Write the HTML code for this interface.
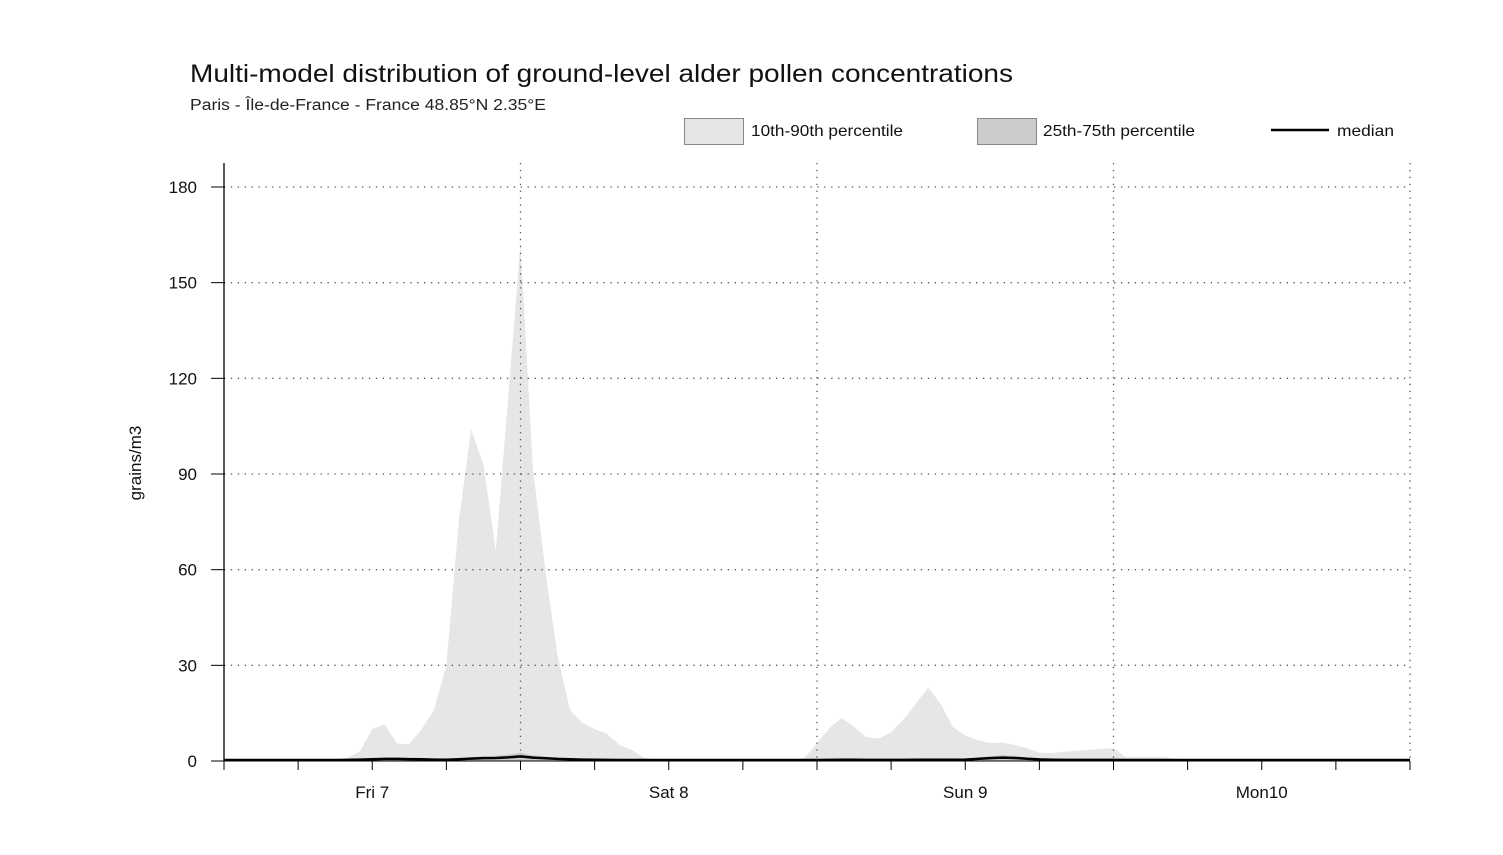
<!DOCTYPE html>
<html><head><meta charset="utf-8"><style>
html,body{margin:0;padding:0;background:#fff;}
svg{display:block;font-family:"Liberation Sans",sans-serif;}
</style></head><body>
<svg id="chart" width="1503" height="855" xmlns="http://www.w3.org/2000/svg">
<text x="190" y="82" font-size="25" fill="#111" textLength="823" lengthAdjust="spacingAndGlyphs">Multi-model distribution of ground-level alder pollen concentrations</text>
<text x="190" y="110" font-size="15.5" fill="#222" textLength="356" lengthAdjust="spacingAndGlyphs">Paris - Île-de-France - France 48.85°N 2.35°E</text>
<g>
<rect x="684.5" y="118.5" width="59" height="26" fill="#e6e6e6" stroke="#888"/>
<text x="751" y="136" font-size="16" fill="#111" textLength="152" lengthAdjust="spacingAndGlyphs">10th-90th percentile</text>
<rect x="977.5" y="118.5" width="59" height="26" fill="#cccccc" stroke="#888"/>
<text x="1043" y="136" font-size="16" fill="#111" textLength="152" lengthAdjust="spacingAndGlyphs">25th-75th percentile</text>
<line x1="1271" y1="130" x2="1329" y2="130" stroke="#000" stroke-width="2.5"/>
<text x="1337" y="136" font-size="16" fill="#111" textLength="57" lengthAdjust="spacingAndGlyphs">median</text>
</g>
<text transform="translate(141,463) rotate(-90)" text-anchor="middle" font-size="17" fill="#111">grains/m3</text>
<g id="plot"></g>
</svg>
<script>
const p10 = new Array(97).fill(0);
const p90 = [0.3,0.3,0.3,0.3,0.3,0.3,0.3,0.3,0.3,0.3,1,3,10,11.5,5.5,5.3,10,16,30,75,104,93,66,114,162,92,60,33,16,12,10,8.5,5,3.5,1,0.3,
0.3,0.3,0.3,0.3,0.3,0.3,0.3,0.3,0.3,0.3,0.3,1,5.6,10.3,13.5,10.7,7.5,7,9,13,18,23,18,10.7,8,6.6,5.6,5.8,5,4,2.6,2.5,2.9,3.2,3.5,3.8,4,1.2,1.3,1.3,1.2,0.8,0.5,
0.3,0.3,0.3,0.3,0.3,0.3,0.3,0.3,0.3,0.3,0.3,0.3,0.3,0.3,0.3,0.3,0.3,0.3];
const p25 = new Array(97).fill(0);
const p75 = [0.3,0.3,0.3,0.3,0.3,0.3,0.3,0.3,0.3,0.3,0.4,0.6,0.8,1,1,0.9,0.8,0.6,0.5,0.8,1.2,1.5,1.6,2,2.6,1.8,1.4,1,0.8,0.6,0.5,0.4,0.3,0.3,0.3,0.3,
0.3,0.3,0.3,0.3,0.3,0.3,0.3,0.3,0.3,0.3,0.3,0.3,0.3,0.4,0.5,0.5,0.4,0.4,0.4,0.4,0.5,0.5,0.5,0.5,0.6,1,1.5,1.8,1.6,1.1,0.7,0.5,0.4,0.4,0.4,0.4,0.4,0.3,0.3,0.3,0.3,0.3,0.3,
0.3,0.3,0.3,0.3,0.3,0.3,0.3,0.3,0.3,0.3,0.3,0.3,0.3,0.3,0.3,0.3,0.3,0.3];
const median = p75.map(v => Math.min(v, 0.3 + (v - 0.3) * 0.5));
const yTicks = [0,30,60,90,120,150,180];
const dayLabels = ["Fri 7","Sat 8","Sun 9","Mon10"];

const NS = "http://www.w3.org/2000/svg";
const X0 = 224, X1 = 1410, Y0 = 761, Y180 = 187;
const xs = i => X0 + (X1 - X0) * i / (p90.length - 1);
const ys = v => Y0 - (Y0 - Y180) * v / 180;
const g = document.getElementById('plot');
function mk(tag, attrs) { const e = document.createElementNS(NS, tag); for (const k in attrs) e.setAttribute(k, attrs[k]); g.appendChild(e); return e; }
function band(lo, hi, fill, name) {
  let d = "M" + hi.map((v,i)=>xs(i)+","+ys(v)).join(" L");
  for (let i = lo.length-1; i >= 0; i--) d += " L" + xs(i) + "," + ys(lo[i]);
  const e = mk('path', {d: d + "Z", fill: fill});
  
  
}
band(p10, p90, "#e6e6e6", "band-10-90");
band(p25, p75, "#c8c8c8", "band-25-75");
yTicks.forEach(t => {
  const y = ys(t);
  if (t > 0) {
    const l = mk('line', {x1: X0, x2: X1, y1: y, y2: y, stroke: "#555", "stroke-width": 1.3, "stroke-dasharray": "1.3 5.6"});
    
    
  }
  const tk = mk('line', {x1: 211, x2: X0, y1: y, y2: y, stroke: "#000", "stroke-width": 1});
  
  
  const tx = mk('text', {x: 197, y: y + 6, "text-anchor": "end", "font-size": 17, fill: "#111"});
  tx.textContent = t;
  
  
});
const dayW = (X1 - X0) / dayLabels.length;
dayLabels.forEach((lab, d) => {
  const xe = X0 + dayW * (d + 1);
  const gl = mk('line', {x1: xe, x2: xe, y1: 163, y2: Y0, stroke: "#555", "stroke-width": 1.3, "stroke-dasharray": "1.3 5.6"});
  
  
  const tx = mk('text', {x: X0 + dayW * (d + 0.5), y: 798, "text-anchor": "middle", "font-size": 17, fill: "#111"});
  tx.textContent = lab;
  
  
});
for (let k = 0; k <= 16; k++) {
  const x = X0 + dayW * k / 4;
  const tk = mk('line', {x1: x, x2: x, y1: Y0, y2: Y0 + 9, stroke: "#000", "stroke-width": 1});
  
  
}
const ya = mk('line', {x1: X0, x2: X0, y1: 163, y2: Y0, stroke: "#000", "stroke-width": 1.3});


const xa = mk('line', {x1: X0, x2: X1, y1: Y0, y2: Y0, stroke: "#000", "stroke-width": 1});


const ml = mk('polyline', {points: median.map((v,i)=>xs(i)+","+ys(v)).join(" "), fill: "none", stroke: "#000", "stroke-width": 2.5});


</script>
</body></html>
